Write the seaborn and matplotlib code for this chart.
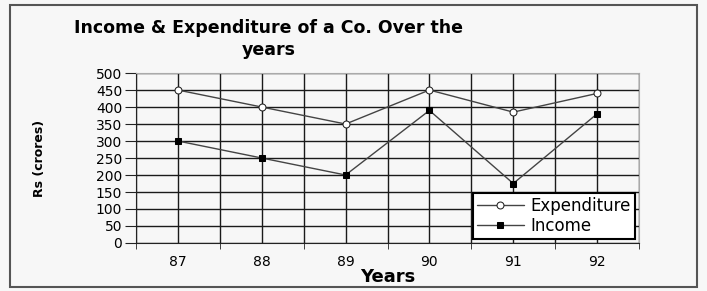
import matplotlib
matplotlib.use("Agg")
import matplotlib.pyplot as plt
from matplotlib.patches import Rectangle
import seaborn as sns
import pandas as pd

years = ["87", "88", "89", "90", "91", "92"]
expenditure = [450, 400, 350, 450, 385, 440]
income = [300, 250, 200, 390, 175, 380]

sns.set_style("white")
plt.rcParams["font.family"] = ["DejaVu Sans"]
plt.rcParams.update({"text.color": "black", "axes.labelcolor": "black",
                     "xtick.color": "black", "ytick.color": "black"})

df = pd.DataFrame({"pos": range(len(years)), "Expenditure": expenditure, "Income": income})

fig = plt.figure(figsize=(7.07, 2.91), dpi=100)
fig.patch.set_facecolor("#f7f7f7")
ax = fig.add_axes([0.1924, 0.165, 0.7114, 0.584])
ax.set_facecolor("#f7f7f7")

sns.lineplot(data=df, x="pos", y="Expenditure", ax=ax, color="#444444", lw=1,
             marker="o", markersize=5, markerfacecolor="white", markeredgecolor="#222222",
             label="Expenditure")
sns.lineplot(data=df, x="pos", y="Income", ax=ax, color="#444444", lw=1,
             marker="s", markersize=5, markerfacecolor="black", markeredgecolor="black",
             label="Income")

ax.set_xlim(-0.5, len(years) - 0.5)
ax.set_ylim(0, 500)
ax.set_yticks(range(0, 501, 50))
ax.set_xticks(range(len(years)))
ax.set_xticklabels(years)
ax.set_xticks([i - 0.5 for i in range(len(years) + 1)], minor=True)
ax.grid(True, which="both", color="#1a1a1a", lw=1)
ax.tick_params(axis="x", which="major", length=0, labelsize=10, pad=9)
ax.tick_params(axis="x", which="minor", length=4, direction="out", color="#222222")
ax.tick_params(axis="y", length=8, direction="out", color="#222222", labelsize=10, pad=2)
ax.yaxis.set_ticks_position("left")
ax.xaxis.set_ticks_position("bottom")
for s in ["left", "bottom"]:
    ax.spines[s].set_color("#222222")
for s in ["top", "right"]:
    ax.spines[s].set_color("#aaaaaa")

ax.set_xlabel("Years", fontsize=13, fontweight="bold", labelpad=-1)
ax.set_ylabel("Rs (crores)", fontsize=9, fontweight="bold", labelpad=36)

leg = ax.legend(loc="lower right", frameon=True, fancybox=False, fontsize=12,
                borderaxespad=0.25, handlelength=2.8, labelspacing=0.1, borderpad=0.25,
                handletextpad=0.4)
leg.get_frame().set_edgecolor("black")
leg.get_frame().set_linewidth(1.5)
leg.get_frame().set_facecolor("white")
leg.get_frame().set_alpha(1)

fig.text(269 / 707, 1 - 39 / 291, "Income & Expenditure of a Co. Over the\nyears",
         ha="center", va="center", fontsize=12.5, fontweight="bold", linespacing=1.25)

fig.patches.append(Rectangle((10 / 707, 4 / 291), 687 / 707, 282 / 291,
                             transform=fig.transFigure, fill=False,
                             edgecolor="#555555", lw=1.5))

fig.savefig("out.png", dpi=100, facecolor=fig.get_facecolor())
